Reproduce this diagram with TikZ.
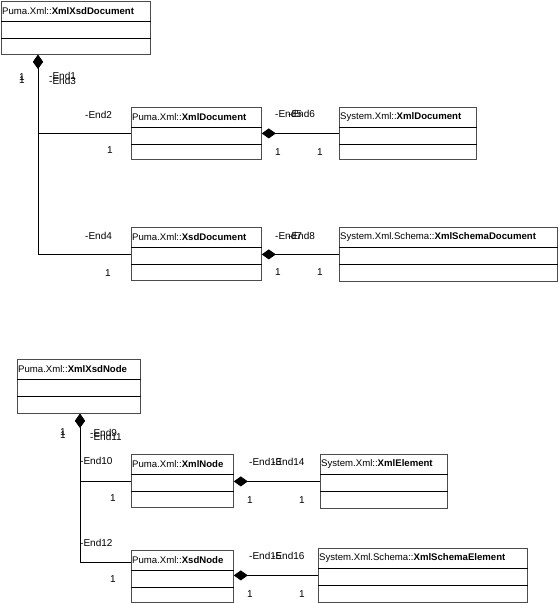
\documentclass[tikz,border=0pt]{standalone}
\usepackage{fontspec}
\setmainfont{Liberation Sans}
\usetikzlibrary{arrows.meta, positioning}

\tikzset{
    classbox/.style={draw=black!70, line width=0.8pt, inner sep=0pt, anchor=north west},
    classtitle/.style={font=\fontsize{9.6}{11}\selectfont, inner sep=1pt, anchor=west},
    endlabel/.style={font=\fontsize{10}{11}\selectfont, inner sep=0pt, anchor=west},
    multlabel/.style={font=\fontsize{10}{11}\selectfont, inner sep=0pt},
    comp/.style={line width=0.8pt, {Diamond[length=14pt,width=10pt]}-},
}

% class box: name, corner, width, height, package, class
\newcommand{\umlclass}[6]{%
    \node[classbox, minimum width=#3pt, minimum height=#4pt] (#1) at (#2) {};
    \node[classtitle] (#1-title) at ([yshift=-10pt]#1.north west) {#5::\textbf{#6}};
    \draw[line width=0.8pt] ([yshift=-20pt]#1.north west) -- ([yshift=-20pt]#1.north east);
    \draw[line width=0.8pt] ([yshift=-37pt]#1.north west) -- ([yshift=-37pt]#1.north east);
}

\begin{document}
\begin{tikzpicture}[x=1pt, y=-1pt]
    \useasboundingbox (0,0) rectangle (560,603);

    % Document classes
    \umlclass{xsddoc}{1,1}{149}{53}{Puma.Xml}{XmlXsdDocument}
    \umlclass{pxmldoc}{131,107}{130}{52}{Puma.Xml}{XmlDocument}
    \umlclass{sxmldoc}{339,107}{137}{52}{System.Xml}{XmlDocument}
    \umlclass{pxsddoc}{131,227}{130}{53}{Puma.Xml}{XsdDocument}
    \umlclass{schemadoc}{339,227}{218}{54}{System.Xml.Schema}{XmlSchemaDocument}

    % Node classes
    \umlclass{xsdnode}{17,359}{123}{54}{Puma.Xml}{XmlXsdNode}
    \umlclass{pxmlnode}{131,454}{102}{53}{Puma.Xml}{XmlNode}
    \umlclass{selement}{320,454}{127}{54}{System.Xml}{XmlElement}
    \umlclass{pxsdnode}{131,550}{102}{52}{Puma.Xml}{XsdNode}
    \umlclass{schemaelem}{318,548}{209}{54}{System.Xml.Schema}{XmlSchemaElement}

    % Compositions
    \draw[comp] ([xshift=37pt]xsddoc.south west) |- (pxmldoc.west);
    \draw[comp] ([xshift=37pt]xsddoc.south west) |- (pxsddoc.west);
    \draw[comp] (pxmldoc.east) -- (sxmldoc.west);
    \draw[comp] (pxsddoc.east |- schemadoc.west) -- (schemadoc.west);
    \draw[comp] ([xshift=63pt]xsdnode.south west) |- (pxmlnode.west);
    \draw[comp] ([xshift=63pt]xsdnode.south west) |- ([yshift=-12pt]pxsdnode.north west);
    \draw[comp] (pxmlnode.east |- selement.west) -- (selement.west);
    \draw[comp] (pxsdnode.east |- schemaelem.west) -- (schemaelem.west);

    % Role names
    \foreach \name/\x/\y/\txt in {e1/49/76/-End1, e3/49/81/-End3, e2/85/115/-End2,
        e5/275/114/-End5, e6/288/114/-End6, e4/85/236/-End4,
        e7/275/236/-End7, e8/288/236/-End8, e9/90/433/-End9, e11/90/437/-End11,
        e10/80/461/-End10, e12/80/543/-End12, e13/249/462/-End13, e14/272/462/-End14,
        e15/249/556/-End15, e16/272/556/-End16} {
        \node[endlabel] (\name) at (\x,\y) {\txt};
    }

    % Multiplicities
    \foreach \name/\x/\y in {m1/22/77, m3/22/80, m2/110/150, m5/278/152, m6/320/152,
        m4/108/273, m7/278/272, m8/320/272, m9/63/432, m11/63/435,
        m10/113/498, m13/250/500, m14/302/500, m12/113/579, m15/250/594, m16/302/594} {
        \node[multlabel] (\name) at (\x,\y) {1};
    }
\end{tikzpicture}
\end{document}
